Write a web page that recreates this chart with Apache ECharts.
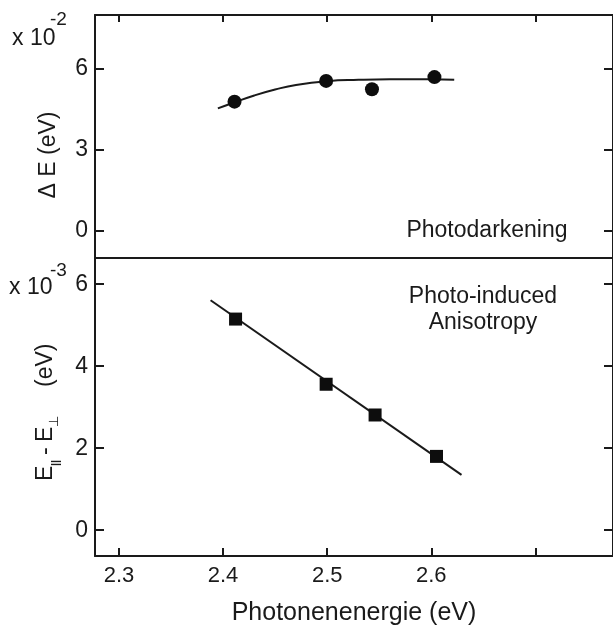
<!DOCTYPE html>
<html>
<head>
<meta charset="utf-8">
<script src="https://cdn.jsdelivr.net/npm/echarts@6/dist/echarts.min.js"></script>
<style>
html,body{margin:0;padding:0;background:#fff;}
#chart{width:613px;height:627px;}
</style>
</head>
<body>
<div id="chart"></div>
<script>
// Top panel: Photodarkening, Delta E (x 10^-2 eV)
const darkX = [2.411, 2.499, 2.543, 2.603];
const darkY = [4.79, 5.56, 5.25, 5.70];
const darkFitX = [2.395, 2.41, 2.43, 2.45, 2.47, 2.50, 2.53, 2.56, 2.60, 2.622];
const darkFitY = [4.54, 4.75, 5.02, 5.24, 5.41, 5.55, 5.60, 5.62, 5.62, 5.60];
// Bottom panel: Photo-induced anisotropy, E|| - E_perp (x 10^-3 eV)
const anisoX = [2.412, 2.499, 2.546, 2.605];
const anisoY = [5.15, 3.56, 2.81, 1.80];
const anisoFitX = [2.388, 2.629];
const anisoFitY = [5.61, 1.35];
// Ticks
const xTicks = [2.3, 2.4, 2.5, 2.6, 2.7];
const xLabels = [2.3, 2.4, 2.5, 2.6];
const topYTicks = [0, 3, 6];
const botYTicks = [0, 2, 4, 6];

const FONT = '"Liberation Sans", Arial, sans-serif';
const INK = '#1a1a1a';
const zip = (a, b) => a.map((v, i) => [v, b[i]]);

const chart = echarts.init(document.getElementById('chart'), null, {renderer: 'canvas'});

const xMin = 2.277, xMax = 2.7745;
const lineStyle = {color: INK, width: 2};

function xAxisDef(gridIndex, position, opts) {
  return Object.assign({
    type: 'value', gridIndex, position, min: xMin, max: xMax,
    axisLine: {show: true, onZero: false, lineStyle},
    axisTick: {show: false},
    axisLabel: {show: false},
    splitLine: {show: false}
  }, opts || {});
}
function yAxisDef(gridIndex, position, min, max, ticks, showLabels) {
  return {
    type: 'value', gridIndex, position, min, max,
    axisLine: {show: true, onZero: false, lineStyle},
    axisTick: {show: true, inside: true, length: 9, customValues: ticks, lineStyle: {color: INK, width: 2}},
    axisLabel: {show: showLabels, customValues: ticks, margin: 7, color: INK, fontSize: 23, fontFamily: FONT},
    splitLine: {show: false}
  };
}

const option = {
  animation: false,
  backgroundColor: '#fff',
  grid: [
    {left: 95, top: 15, width: 519, height: 243},
    {left: 95, top: 258, width: 519, height: 298}
  ],
  xAxis: [
    xAxisDef(0, 'bottom'),
    xAxisDef(0, 'top', {
      axisTick: {show: true, inside: true, length: 7, customValues: xTicks, lineStyle: {color: INK, width: 2}}
    }),
    xAxisDef(1, 'bottom', {
      axisTick: {show: true, inside: true, length: 8, customValues: xTicks, lineStyle: {color: INK, width: 2}},
      axisLabel: {show: true, customValues: xLabels, margin: 9, color: INK, fontSize: 22, fontFamily: FONT,
        formatter: v => v.toFixed(1)},
      name: 'Photonenenergie (eV)', nameLocation: 'middle', nameGap: 45,
      nameTextStyle: {color: INK, fontSize: 25, fontFamily: FONT}
    }),
    xAxisDef(1, 'top')
  ],
  yAxis: [
    yAxisDef(0, 'left', -1, 8, topYTicks, true),
    yAxisDef(0, 'right', -1, 8, topYTicks, false),
    yAxisDef(1, 'left', -0.63, 6.64, botYTicks, true),
    yAxisDef(1, 'right', -0.63, 6.64, botYTicks, false)
  ],
  series: [
    {type: 'line', xAxisIndex: 0, yAxisIndex: 0, data: zip(darkFitX, darkFitY), smooth: 0.5,
      showSymbol: false, symbol: 'none', lineStyle: {color: INK, width: 2}, z: 2},
    {type: 'scatter', xAxisIndex: 0, yAxisIndex: 0, data: zip(darkX, darkY), symbol: 'circle',
      symbolSize: 14, itemStyle: {color: '#0d0d0d', opacity: 1}, z: 3},
    {type: 'line', xAxisIndex: 2, yAxisIndex: 2, data: zip(anisoFitX, anisoFitY),
      showSymbol: false, symbol: 'none', lineStyle: {color: INK, width: 2}, z: 2},
    {type: 'scatter', xAxisIndex: 2, yAxisIndex: 2, data: zip(anisoX, anisoY), symbol: 'rect',
      symbolSize: 13, itemStyle: {color: '#0d0d0d', opacity: 1}, z: 3}
  ],
  graphic: [
    {type: 'text', left: 12, top: 27, style: {text: 'x 10', fontSize: 23, fontFamily: FONT, fill: INK}},
    {type: 'text', left: 50, top: 10, style: {text: '-2', fontSize: 19, fontFamily: FONT, fill: INK}},
    {type: 'text', left: 9, top: 276, style: {text: 'x 10', fontSize: 23, fontFamily: FONT, fill: INK}},
    {type: 'text', left: 50, top: 261, style: {text: '-3', fontSize: 19, fontFamily: FONT, fill: INK}},
    {type: 'text', x: 487, y: 231, style: {text: 'Photodarkening', fontSize: 23, fontFamily: FONT, fill: INK,
      align: 'center', verticalAlign: 'middle'}},
    {type: 'text', x: 483, y: 297, style: {text: 'Photo-induced', fontSize: 23, fontFamily: FONT, fill: INK,
      align: 'center', verticalAlign: 'middle'}},
    {type: 'text', x: 483, y: 323, style: {text: 'Anisotropy', fontSize: 23, fontFamily: FONT, fill: INK,
      align: 'center', verticalAlign: 'middle'}},
    // Delta E (eV)
    {type: 'text', x: 49, y: 155, rotation: Math.PI / 2,
      style: {text: '\u0394 E (eV)', fontSize: 23, fontFamily: FONT, fill: INK, align: 'center', verticalAlign: 'middle'}},
    // E|| - E_perp (eV)
    {type: 'group', x: 57, y: 481, rotation: Math.PI / 2, children: [
      {type: 'text', x: 0, y: 0, style: {text: 'E', fontSize: 23, fontFamily: FONT, fill: INK, verticalAlign: 'bottom'}},
      {type: 'text', x: 15, y: 4, style: {text: '||', fontSize: 11, fontFamily: FONT, fill: INK, verticalAlign: 'bottom', fontWeight: 'bold'}},
      {type: 'text', x: 26, y: 0, style: {text: '-', fontSize: 23, fontFamily: FONT, fill: INK, verticalAlign: 'bottom'}},
      {type: 'text', x: 39, y: 0, style: {text: 'E', fontSize: 23, fontFamily: FONT, fill: INK, verticalAlign: 'bottom'}},
      {type: 'text', x: 54, y: 4, style: {text: '\u22A5', fontSize: 13, fontFamily: '"DejaVu Sans", sans-serif', fill: INK, verticalAlign: 'bottom'}},
      {type: 'text', x: 94, y: 0, style: {text: '(eV)', fontSize: 23, fontFamily: FONT, fill: INK, verticalAlign: 'bottom'}}
    ]}
  ]
};
chart.setOption(option);
</script>
</body>
</html>
